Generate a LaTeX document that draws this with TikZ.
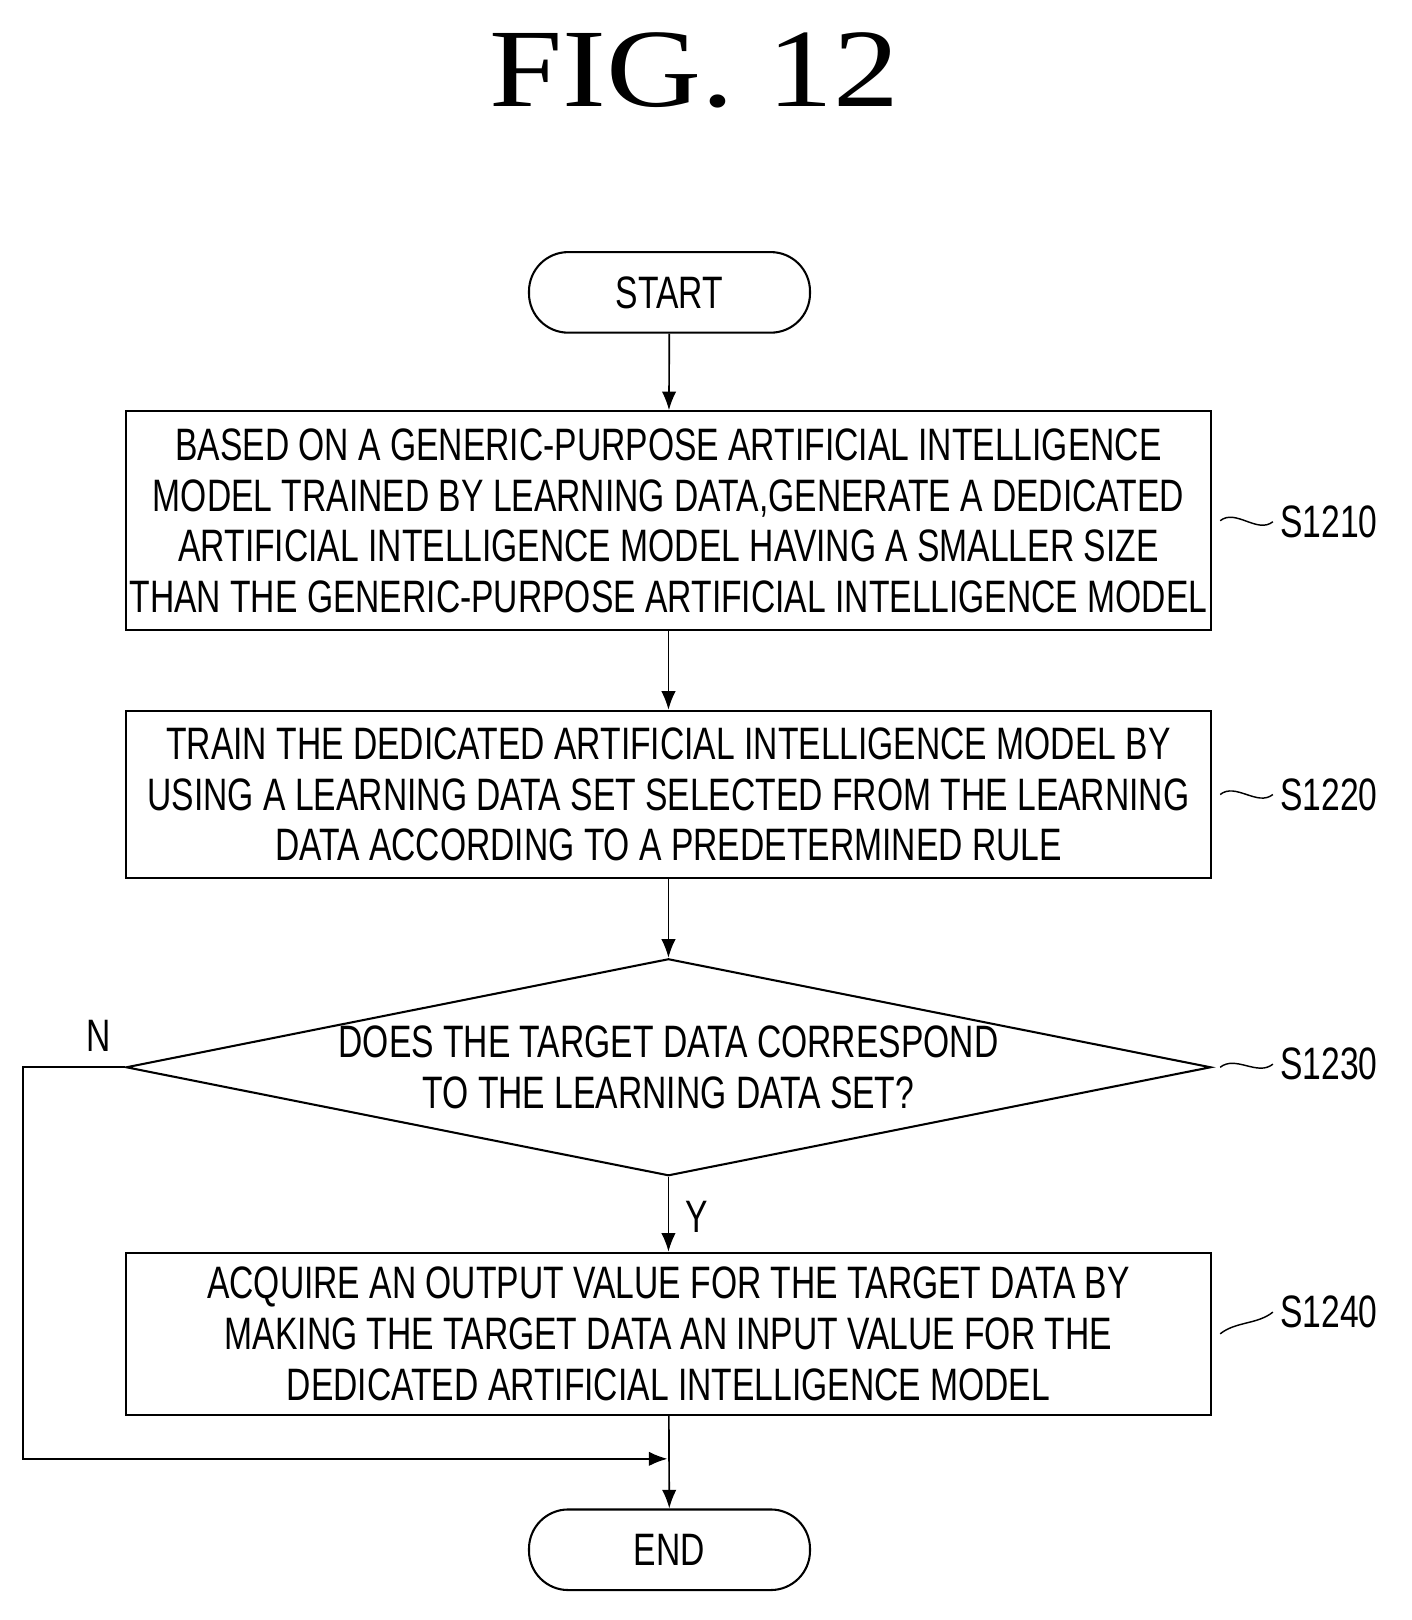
\documentclass[tikz,border=0pt]{standalone}
\usepackage{fontspec}
\setmainfont[FakeStretch=1.18]{Liberation Serif}
\newfontfamily\boxfont[FakeStretch=0.74]{Liberation Sans}
\usetikzlibrary{shapes.geometric,arrows.meta}
\begin{document}
\begin{tikzpicture}[x=0.5pt,y=-0.5pt,
  box/.style={draw,line width=1pt,minimum width=525pt,inner sep=0pt,align=center,font=\boxfont\fontsize{22}{24.5}\selectfont},
  term/.style={draw,line width=1pt,rounded corners=19pt,minimum width=136pt,minimum height=39pt,font=\boxfont\fontsize{22}{24}\selectfont},
  arr/.style={line width=0.8pt,-{Latex[length=9pt,width=7pt]}},
  lab/.style={font=\boxfont\fontsize{22}{24}\selectfont,anchor=west},
  sq/.style={line width=0.7pt}]
\useasboundingbox (0,0) rectangle (1366,1568);
\node[font=\fontsize{54}{60}\selectfont] (title) at (672,68) {FIG. 12};
\node[term] (start) at (648,283) {START};
\node[box,minimum height=106pt] (b1) at (647,504) {BASED ON A GENERIC-PURPOSE ARTIFICIAL INTELLIGENCE\\MODEL TRAINED BY LEARNING DATA,GENERATE A DEDICATED\\ARTIFICIAL INTELLIGENCE MODEL HAVING A SMALLER SIZE\\THAN THE GENERIC-PURPOSE ARTIFICIAL INTELLIGENCE MODEL};
\node[box,minimum height=81pt] (b2) at (647,769) {TRAIN THE DEDICATED ARTIFICIAL INTELLIGENCE MODEL BY\\USING A LEARNING DATA SET SELECTED FROM THE LEARNING\\DATA ACCORDING TO A PREDETERMINED RULE};
\node[draw,line width=1pt,diamond,minimum width=525pt,minimum height=105pt,inner sep=0pt,shape aspect=5] (d) at (647,1033) {};
\node[align=center,font=\boxfont\fontsize{22}{24.5}\selectfont] (dt) at (647,1033) {DOES THE TARGET DATA CORRESPOND\\TO THE LEARNING DATA SET?};
\node[box,minimum height=78.5pt] (b3) at (647,1291) {ACQUIRE AN OUTPUT VALUE FOR THE TARGET DATA BY\\MAKING THE TARGET DATA AN INPUT VALUE FOR THE\\DEDICATED ARTIFICIAL INTELLIGENCE MODEL};
\node[term] (end) at (648,1500) {END};
\coordinate (c1) at (22,1033);
\coordinate (c2) at (22,1412);
\coordinate (c3) at (646,1412);
\draw[arr] (start) -- (b1);
\draw[arr] (b1) -- (b2);
\draw[arr] (b2) -- (d.north);
\draw[arr] (d.south) -- (b3);
\draw[arr] (b3) -- (end);
\draw[arr] (d.west) -- (c1) -- (c2) -- (c3);
\node[font=\boxfont\fontsize{22}{24}\selectfont] (n) at (95,1003) {N};
\node[font=\boxfont\fontsize{22}{24}\selectfont] (y) at (674,1178) {Y};
\foreach \n/\yy/\t in {l1/505/S1210,l2/769/S1220,l3/1030/S1230,l4/1270/S1240}{
  \node[lab] (\n) at (1232,\yy) {\t};
}
\draw[sq] (b1.east) ++(8,0) .. controls +(15,-12) and +(-15,12) .. (l1.west);
\draw[sq] (b2.east) ++(8,0) .. controls +(15,-12) and +(-15,12) .. (l2.west);
\draw[sq] (d.east) ++(8,0) .. controls +(15,-12) and +(-15,12) .. (l3.west);
\draw[sq] (b3.east) ++(8,0) .. controls +(15,-12) and +(-15,12) .. (l4.west);
\end{tikzpicture}
\end{document}
